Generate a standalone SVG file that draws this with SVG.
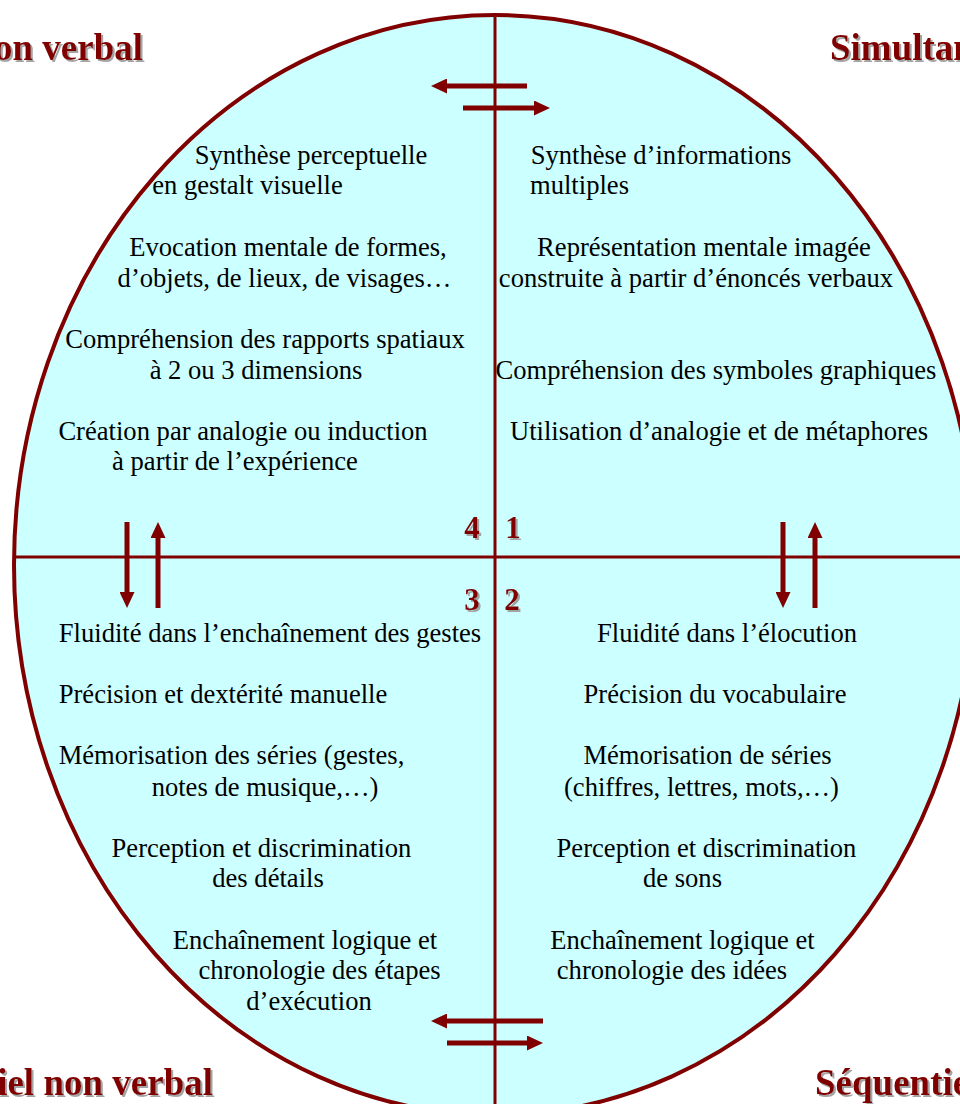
<svg xmlns="http://www.w3.org/2000/svg" width="960" height="1104" viewBox="0 0 960 1104">
<defs>
<style>
.t{font-family:"Liberation Serif","Times New Roman",serif;font-size:26.6px;fill:#000;text-anchor:middle}
.h{font-family:"Liberation Serif","Times New Roman",serif;font-size:37px;font-weight:bold;fill:#800000}
.n{font-family:"Liberation Serif","Times New Roman",serif;font-size:31px;font-weight:bold;fill:#800000;text-anchor:middle}
.ar{stroke:#800000;stroke-width:5;fill:none;marker-end:url(#ah)}
</style>
<filter id="sh" x="-10%" y="-20%" width="130%" height="150%">
<feDropShadow dx="2" dy="2" stdDeviation="0.6" flood-color="#9a9a9a" flood-opacity="0.9"/>
</filter>
<marker id="ah" markerUnits="userSpaceOnUse" viewBox="0 0 16 15" markerWidth="16" markerHeight="15" refX="0" refY="7.5" orient="auto">
<path d="M0,0 L16,7.5 L0,15 z" fill="#800000"/>
</marker>
</defs>
<rect width="960" height="1104" fill="#fff"/>
<g id="ellipse">
<ellipse cx="495" cy="565" rx="481" ry="550" fill="#ccffff" stroke="#800000" stroke-width="4"/>
</g>
<g id="axes">
<line x1="495" y1="15" x2="495" y2="1104" stroke="#800000" stroke-width="3"/>
<line x1="14" y1="557" x2="960" y2="557" stroke="#800000" stroke-width="3"/>
</g>
<g id="connectors">
<line class="ar" x1="527" y1="86" x2="447" y2="86"/>
<line class="ar" x1="463" y1="108" x2="534" y2="108"/>
<line class="ar" x1="543" y1="1021" x2="447" y2="1021"/>
<line class="ar" x1="447" y1="1043" x2="527" y2="1043"/>
<line class="ar" x1="127" y1="522" x2="127" y2="592"/>
<line class="ar" x1="158" y1="608" x2="158" y2="538"/>
<line class="ar" x1="783" y1="522" x2="783" y2="592"/>
<line class="ar" x1="815" y1="608" x2="815" y2="538"/>
</g>
<g id="headings" filter="url(#sh)">
<text class="h" x="143" y="60" text-anchor="end">on verbal</text>
<text class="h" x="830" y="60">Simultan</text>
<text class="h" x="213" y="1095" text-anchor="end">iel non verbal</text>
<text class="h" x="815" y="1095">Séquentie</text>
</g>
<g id="numbers" filter="url(#sh)">
<text class="n" x="472" y="538">4</text>
<text class="n" x="513" y="538">1</text>
<text class="n" x="472" y="610">3</text>
<text class="n" x="512" y="610">2</text>
</g>
<g id="q4">
<text class="t" x="311" y="164">Synthèse perceptuelle</text>
<text class="t" x="247.5" y="194">en gestalt visuelle</text>
<text class="t" x="288" y="256">Evocation mentale de formes,</text>
<text class="t" x="284.5" y="287">d’objets, de lieux, de visages…</text>
<text class="t" x="265" y="348">Compréhension des rapports spatiaux</text>
<text class="t" x="256" y="379">à 2 ou 3 dimensions</text>
<text class="t" x="243" y="440">Création par analogie ou induction</text>
<text class="t" x="235" y="470">à partir de l’expérience</text>
</g>
<g id="q1">
<text class="t" x="661" y="164">Synthèse d’informations</text>
<text class="t" x="579.5" y="194">multiples</text>
<text class="t" x="704" y="256">Représentation mentale imagée</text>
<text class="t" x="696" y="287">construite à partir d’énoncés verbaux</text>
<text class="t" x="716" y="379">Compréhension des symboles graphiques</text>
<text class="t" x="719" y="440">Utilisation d’analogie et de métaphores</text>
</g>
<g id="q3">
<text class="t" x="270" y="642">Fluidité dans l’enchaînement des gestes</text>
<text class="t" x="223" y="703">Précision et dextérité manuelle</text>
<text class="t" x="231.5" y="764">Mémorisation des séries (gestes,</text>
<text class="t" x="265" y="796">notes de musique,…)</text>
<text class="t" x="261.5" y="857">Perception et discrimination</text>
<text class="t" x="268" y="887">des détails</text>
<text class="t" x="305" y="949">Enchaînement logique et</text>
<text class="t" x="319.5" y="979">chronologie des étapes</text>
<text class="t" x="309" y="1010">d’exécution</text>
</g>
<g id="q2">
<text class="t" x="727" y="642">Fluidité dans l’élocution</text>
<text class="t" x="715" y="703">Précision du vocabulaire</text>
<text class="t" x="707.5" y="764">Mémorisation de séries</text>
<text class="t" x="701.5" y="796">(chiffres, lettres, mots,…)</text>
<text class="t" x="706.5" y="857">Perception et discrimination</text>
<text class="t" x="682.5" y="887">de sons</text>
<text class="t" x="682.5" y="949">Enchaînement logique et</text>
<text class="t" x="672" y="979">chronologie des idées</text>
</g>
</svg>
